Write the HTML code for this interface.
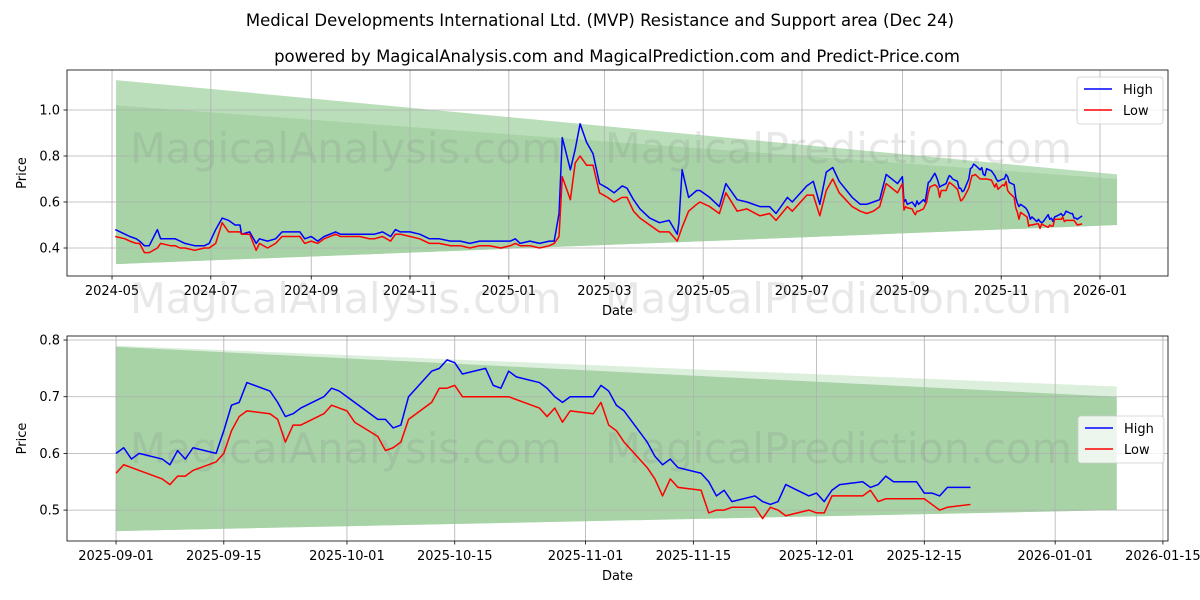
<!DOCTYPE html>
<html><head><meta charset="utf-8"><style>
html,body{margin:0;padding:0;background:#fff;}
svg{display:block;font-family:"DejaVu Sans","Liberation Sans",sans-serif;}
</style></head><body>
<svg id="chart" width="1200" height="600" xmlns="http://www.w3.org/2000/svg">
<text x="600" y="26" text-anchor="middle" font-size="16.5">Medical Developments International Ltd. (MVP) Resistance and Support area (Dec 24)</text>
<text x="617" y="62" text-anchor="middle" font-size="16.5">powered by MagicalAnalysis.com and MagicalPrediction.com and Predict-Price.com</text>
</svg>
<script>
const earlyDays=[2,8,11,15,17,20,23,28,30,36,39,42,45,51,57,60,64,68,72,76,79,80,85,89,91,96,101,105,110,116,119,123,127,131,138,141,147,153,159,162,167,172,175,178,184,190,196,202,209,215,221,227,233,240,246,249,252,258,264,270,273,276,278,283,286,289,290,293,297,301,306,310,315,318,322,326,332,338,344,349,350,352,356,361,363,369,375,379,386,392,400,406,410,417,420,429,433,437,441,445,449,457,462,466,470,474,478,485];
const earlyHigh=[.48,.46,.45,.44,.43,.41,.41,.48,.44,.44,.44,.43,.42,.41,.41,.42,.48,.53,.52,.50,.50,.46,.47,.42,.44,.43,.44,.47,.47,.47,.44,.45,.43,.45,.47,.46,.46,.46,.46,.46,.47,.45,.48,.47,.47,.46,.44,.44,.43,.43,.42,.43,.43,.43,.43,.44,.42,.43,.42,.43,.43,.55,.88,.74,.83,.94,.92,.86,.81,.68,.66,.64,.67,.66,.61,.57,.53,.51,.52,.46,.51,.74,.62,.65,.65,.62,.58,.68,.61,.60,.58,.58,.55,.62,.60,.67,.69,.59,.73,.75,.69,.62,.59,.59,.60,.61,.72,.68,.71];
const earlyLow=[.45,.44,.43,.42,.42,.38,.38,.40,.42,.41,.41,.40,.40,.39,.40,.40,.42,.51,.47,.47,.47,.46,.46,.39,.42,.40,.42,.45,.45,.45,.42,.43,.42,.44,.46,.45,.45,.45,.44,.44,.45,.43,.46,.46,.45,.44,.42,.42,.41,.41,.40,.41,.41,.40,.41,.42,.41,.41,.40,.41,.42,.45,.71,.61,.77,.80,.79,.76,.76,.64,.62,.60,.62,.62,.56,.53,.50,.47,.47,.43,.45,.49,.56,.59,.60,.58,.55,.64,.56,.57,.54,.55,.52,.58,.56,.63,.63,.54,.65,.70,.64,.58,.56,.55,.56,.58,.68,.64,.68];
const recentDays=[0,1,2,3,6,7,8,9,10,13,14,15,16,17,20,21,22,23,24,27,28,29,30,31,34,35,36,37,38,41,42,43,44,45,48,49,50,51,52,55,56,57,58,59,62,63,64,65,66,69,70,71,72,73,76,77,78,79,80,83,84,85,86,87,90,91,92,93,94,97,98,99,100,101,104,105,106,107,108,111];
const recentHigh=[.60,.61,.59,.60,.59,.58,.605,.59,.61,.60,.64,.685,.69,.725,.71,.69,.665,.67,.68,.70,.715,.71,.70,.69,.66,.66,.645,.65,.70,.745,.75,.765,.76,.74,.75,.72,.715,.745,.735,.725,.715,.70,.69,.70,.70,.72,.71,.685,.675,.62,.595,.58,.59,.575,.565,.55,.525,.535,.515,.525,.515,.51,.515,.545,.525,.53,.515,.535,.545,.55,.54,.545,.56,.55,.55,.53,.53,.525,.54,.54];
const recentLow=[.565,.58,.575,.57,.555,.545,.56,.56,.57,.585,.60,.64,.665,.675,.67,.66,.62,.65,.65,.67,.685,.68,.675,.655,.63,.605,.61,.62,.66,.69,.715,.715,.72,.70,.70,.70,.70,.70,.695,.68,.665,.68,.655,.675,.67,.69,.65,.64,.62,.575,.555,.525,.555,.54,.535,.495,.50,.50,.505,.505,.485,.505,.50,.49,.50,.495,.495,.525,.525,.525,.535,.515,.52,.52,.52,.52,.51,.50,.505,.51];
const recentOffset=488;
const topBandOuter=[1.13,0.72], topBandInner=[1.02,0.70], topBandLow=[0.33,0.50];
const botBandOuter=[0.79,0.718], botBandInner=[0.788,0.70], botBandLow=[0.463,0.50];
const topTicksY=[0.4,0.6,0.8,1.0];
const topTicksX=["2024-05","2024-07","2024-09","2024-11","2025-01","2025-03","2025-05","2025-07","2025-09","2025-11","2026-01"];
const botTicksY=[0.5,0.6,0.7,0.8];
const botTicksX=["2025-09-01","2025-09-15","2025-10-01","2025-10-15","2025-11-01","2025-11-15","2025-12-01","2025-12-15","2026-01-01","2026-01-15"];

const NS="http://www.w3.org/2000/svg";
const svg=document.getElementById('chart');
function mk(tag,attrs,parent){const e=document.createElementNS(NS,tag);for(const k in attrs)e.setAttribute(k,attrs[k]);(parent||svg).appendChild(e);return e;}
function dayDiff(s,base){const a=new Date(s.length===7?s+"-01":s),b=new Date(base);return (a-b)/86400000;}

function panel(o){
  const g=mk('g',{});
  
  
  const X=d=>o.x0+(d-o.d0)*(o.x1-o.x0)/(o.d1-o.d0);
  const Y=v=>o.y1-(v-o.v0)*(o.y1-o.y0)/(o.v1-o.v0);
  const bs=o.bandStart,be=o.bandEnd;
  const outer=mk('polygon',{points:`${X(bs)},${Y(o.outer[0])} ${X(be)},${Y(o.outer[1])} ${X(be)},${Y(o.low[1])} ${X(bs)},${Y(o.low[0])}`,fill:o.outerColor},g);
  
  
  const inner=mk('polygon',{points:`${X(bs)},${Y(o.inner[0])} ${X(be)},${Y(o.inner[1])} ${X(be)},${Y(o.low[1])} ${X(bs)},${Y(o.low[0])}`,fill:'#a7d3a7'},g);
  
  
  o.ticksX.forEach(t=>{const x=X(dayDiff(t,o.base));
    mk('line',{x1:x,x2:x,y1:o.y0,y2:o.y1,stroke:'#b0b0b0','stroke-width':0.8},g);
    mk('line',{x1:x,x2:x,y1:o.y1,y2:o.y1+3.5,stroke:'#000','stroke-width':0.8},g);
    const tx=mk('text',{x:x,y:o.y1+19,'text-anchor':'middle','font-size':13},g);tx.textContent=t;
    
    });
  o.ticksY.forEach(t=>{const y=Y(t);
    mk('line',{x1:o.x0,x2:o.x1,y1:y,y2:y,stroke:'#b0b0b0','stroke-width':0.8},g);
    mk('line',{x1:o.x0-3.5,x2:o.x0,y1:y,y2:y,stroke:'#000','stroke-width':0.8},g);
    const tx=mk('text',{x:o.x0-7,y:y+4.5,'text-anchor':'end','font-size':13},g);tx.textContent=t.toFixed(1);
    
    });
  o.marks.forEach(m=>{const w=mk('text',{x:m[0],y:m[1],'font-size':41.5,fill:'#808080','fill-opacity':0.18},g);w.textContent=m[2];
    
    });
  const line=(days,vals,col,name)=>{const p=mk('polyline',{points:days.map((d,i)=>X(d)+','+Y(vals[i])).join(' '),fill:'none',stroke:col,'stroke-width':1.5,'stroke-linejoin':'round'},g);
    
    };
  line(o.days,o.high,'#0000ff','high-line');
  line(o.days,o.low2,'#ff0000','low-line');
  mk('rect',{x:o.x0,y:o.y0,width:o.x1-o.x0,height:o.y1-o.y0,fill:'none',stroke:'#000','stroke-width':0.8},g);
  const xl=mk('text',{x:(o.x0+o.x1)/2,y:o.y1+39,'text-anchor':'middle','font-size':13},g);xl.textContent='Date';
  
  
  const yl=mk('text',{x:0,y:0,'text-anchor':'middle','font-size':13,transform:`translate(${o.x0-41},${(o.y0+o.y1)/2}) rotate(-90)`},g);yl.textContent='Price';
  
  
  const lg=mk('g',{},g);
  
  
  const lx=o.legend[0],ly=o.legend[1];
  mk('rect',{x:lx,y:ly,width:86,height:47,rx:3,fill:'#fff','fill-opacity':0.8,stroke:'#ccc','stroke-width':0.8},lg);
  [['High','#0000ff'],['Low','#ff0000']].forEach((e,i)=>{
    const eg=mk('g',{},lg);
    
    
    mk('line',{x1:lx+7,x2:lx+35,y1:ly+12+i*21,y2:ly+12+i*21,stroke:e[1],'stroke-width':1.5},eg);
    const t=mk('text',{x:lx+46,y:ly+17+i*21,'font-size':13},eg);t.textContent=e[0];});
}

const allDays=earlyDays.concat(recentDays.map(d=>d+recentOffset));
panel({name:'top-chart',x0:67,x1:1168,y0:70,y1:276,d0:-27.8,d1:652,v0:0.2783,v1:1.1739,base:'2024-05-01',
  bandStart:2.5,bandEnd:620.5,outer:topBandOuter,inner:topBandInner,low:topBandLow,outerColor:'#b9deb9',
  ticksX:topTicksX,ticksY:topTicksY,days:allDays,high:earlyHigh.concat(recentHigh),low2:earlyLow.concat(recentLow),
  legend:[1077,77],marks:[[130,163,'MagicalAnalysis.com'],[605,163,'MagicalPrediction.com'],[130,313,'MagicalAnalysis.com'],[605,313,'MagicalPrediction.com']]});
panel({name:'bottom-chart',x0:67,x1:1168,y0:336,y1:541,d0:-6.37,d1:136.66,v0:0.4455,v1:0.8071,base:'2025-09-01',
  bandStart:0,bandEnd:130,outer:botBandOuter,inner:botBandInner,low:botBandLow,outerColor:'#dcefdc',
  ticksX:botTicksX,ticksY:botTicksY,days:recentDays,high:recentHigh,low2:recentLow,
  legend:[1078,416],marks:[[130,463,'MagicalAnalysis.com'],[605,463,'MagicalPrediction.com']]});
</script>
</body></html>
